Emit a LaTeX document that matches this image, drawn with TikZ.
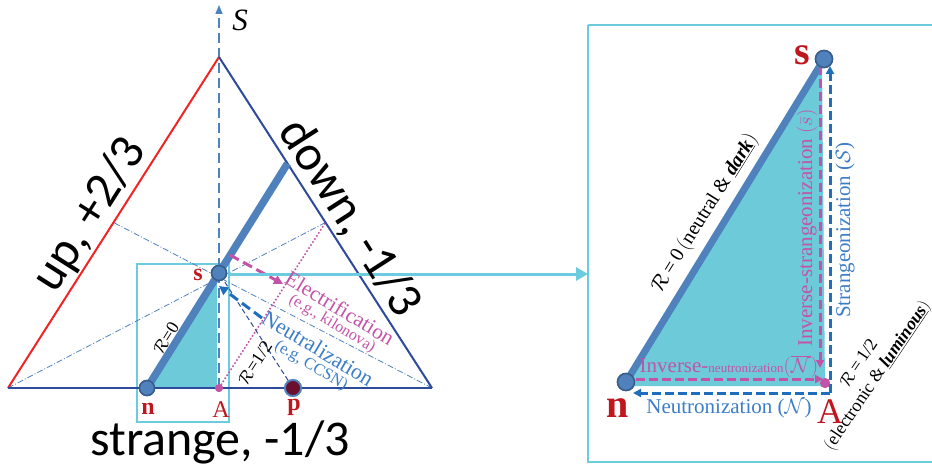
\documentclass[tikz,border=0pt]{standalone}
\usepackage{fontspec}
\setmainfont{Liberation Serif}
\newfontfamily\carl{Carlito}
\usetikzlibrary{arrows.meta,calc}
\definecolor{edgeblue}{HTML}{2E4A9B}
\definecolor{edgered}{HTML}{F02424}
\definecolor{steel}{HTML}{4F81BD}
\definecolor{steeldark}{HTML}{385D8A}
\definecolor{cyanfill}{HTML}{6CCAD9}
\definecolor{cyanline}{HTML}{6CCBDC}
\definecolor{pinkm}{HTML}{C453A8}
\definecolor{arrblue}{HTML}{1F6EBE}
\definecolor{txtblue}{HTML}{3B7DC6}
\definecolor{labred}{HTML}{C0161E}
\definecolor{darkmaroon}{HTML}{6A0F2E}
\newcommand{\fs}[1]{\fontsize{#1}{#1}\selectfont}
\begin{document}
\begin{tikzpicture}[x=1pt,y=-1pt,
  dotnode/.style={circle,fill=steel,draw=steeldark,line width=1.5pt,minimum size=15pt,inner sep=0pt},
  pdot/.style={circle,fill=darkmaroon,draw=steel,line width=1.8pt,minimum size=16pt,inner sep=0pt},
  adot/.style={circle,fill=pinkm,draw=none,minimum size=8pt,inner sep=0pt},
  labs/.style={text=labred,font=\bfseries\fs{24},inner sep=0pt,anchor=base},
  labb/.style={text=labred,font=\bfseries\fs{40},inner sep=0pt,anchor=base},
  bigtxt/.style={font=\carl\fs{50},inner sep=0pt},
  median/.style={steel,line width=0.8pt,dash pattern=on 6pt off 2pt on 1pt off 2pt},
  pinkarrow/.style={pinkm,line width=3pt,dash pattern=on 10pt off 5pt,-{Triangle[length=9pt,width=9pt]}},
  bluearrow/.style={arrblue,line width=3pt,dash pattern=on 10pt off 5pt,-{Triangle[length=9pt,width=9pt]}},
  thinarrow/.style={line width=3pt,dash pattern=on 9pt off 4pt,-{Triangle[length=8pt,width=8pt]}},
  boxline/.style={cyanline,line width=2.5pt}
]
\useasboundingbox (0,0) rectangle (932,468);
% ---------- left panel geometry ----------
\coordinate (L) at (8,388);
\coordinate (R) at (432,388);
\coordinate (T) at (219,57);
\coordinate (mL) at ($(L)!0.5!(T)$);
\coordinate (mR) at ($(T)!0.5!(R)$);
\coordinate (topend) at (287.5,163.5);
\coordinate (Stop) at (219,5);
\coordinate (Sbot) at (219,388);
\coordinate (fillc) at (217,388);
\coordinate (eS) at (230,255);
\coordinate (eE) at (283,284);
\coordinate (nS) at (262,318);
\coordinate (nE) at (219,286);
\coordinate (cS) at (229,274);
\coordinate (cE) at (588,274);
\node[dotnode] (n) at (147,388) {};
\node[dotnode] (s) at (219,273) {};
\node[adot] (A) at (219,388) {};
\node[pdot] (p) at (293,388) {};
% small box
\draw[boxline] (137,264) rectangle (229,422);
% cyan triangle
\fill[cyanfill] (n.center) -- (s.center) -- (fillc) -- cycle;
\draw[white,line width=4pt] (s.south) -- (A.center);
% S axis
\draw[steel,line width=1.6pt,dash pattern=on 10pt off 5pt,-{Triangle[length=9pt,width=7pt]}] (Sbot) -- (Stop);
% medians
\draw[median] (L) -- (mR);
\draw[median] (R) -- (mL);
% R=1/2 dotted
\draw[pinkm,line width=1.6pt,dotted] (A.center) -- (mR);
% p--s thin dashed
\draw[edgeblue,line width=1pt,dash pattern=on 5pt off 3pt] (p) -- (s.center);
% triangle edges
\draw[edgered,line width=2pt] (L) -- (T);
\draw[edgeblue,line width=2pt] (T) -- (R);
\draw[edgeblue,line width=2pt] (L) -- (R);
% thick R=0 line
\draw[steel,line width=7.5pt] (n.center) -- (topend);
% arrows
\draw[pinkarrow] (eS) -- (eE);
\draw[bluearrow] (nS) -- (nE);
\draw[cyanline,line width=3pt,-{Triangle[length=12pt,width=13pt]}] (cS) -- (cE);
% redraw nodes on top
\node[dotnode] at (n) {};
\node[dotnode] at (s) {};
\node[adot] at (A) {};
\node[pdot] at (p) {};
% left labels
\node[labs] (ln) at (148,414) {n};
\node[labs] (ls) at (198,280) {s};
\node[labs,font=\fs{24}] (lA) at (221,417) {A};
\node[labs] (lp) at (294,410) {p};
\node[font=\itshape\fs{31},inner sep=0pt] (lS) at (240,20) {S};
\node[bigtxt,rotate=57.5] (up) at (90,215) {up, +2/3};
\node[bigtxt,rotate=-57.3] (down) at (350,218) {down, -1/3};
\node[bigtxt,anchor=base] (strange) at (220,455) {strange, -1/3};
\node[font=\fs{18},rotate=58,inner sep=0pt] (r0) at (166,338) {$\mathcal{R}$=0};
\node[font=\fs{18},rotate=57,inner sep=0pt] (r12) at (255,363) {$\mathcal{R}$=1/2};
\node[text=pinkm,font=\fs{21.5},rotate=-31,inner sep=0pt] (el) at (340,308) {Electrification};
\node[text=pinkm,font=\fs{16},rotate=-31,inner sep=0pt] (kil) at (332,324) {(e.g., kilonova)};
\node[text=txtblue,font=\fs{22},rotate=-31,inner sep=0pt] (neu) at (318,348) {Neutralization};
\node[text=txtblue,font=\fs{16.5},rotate=-31,inner sep=0pt] (ccsn) at (311,366) {(e.g, CCSN)};
% ---------- right panel ----------
\draw[boxline] (588,25) -- (945,25);
\draw[boxline] (588,25) -- (588,462) -- (945,462);
\node[dotnode,minimum size=17pt] (n2) at (626,382) {};
\node[dotnode,minimum size=17pt] (s2) at (824,59) {};
\node[adot,minimum size=10pt] (A2) at (825,383) {};
\coordinate (f1) at (626,386);
\coordinate (f2) at (822,62);
\coordinate (f3) at (825,386);
\fill[cyanfill] (f1) -- (f2) -- (f3) -- cycle;
\draw[steel,line width=7pt] (n2.center) -- (s2.center);
\coordinate (pvS) at (820,66);
\coordinate (pvE) at (820,368);
\coordinate (phS) at (636,379);
\coordinate (phE) at (823,379);
\coordinate (bC) at (830,393);
\coordinate (bvE) at (830,66);
\coordinate (bhE) at (633,393);
\draw[thinarrow,pinkm] (pvS) -- (pvE);
\draw[thinarrow,pinkm] (phS) -- (phE);
\draw[thinarrow,arrblue] (bC) -- (bvE);
\draw[thinarrow,arrblue] (bC) -- (bhE);
\node[dotnode,minimum size=17pt] at (n2) {};
\node[dotnode,minimum size=17pt] at (s2) {};
\node[adot,minimum size=10pt] at (A2) {};
\node[labb] (ls2) at (802,65) {s};
\node[labb] (ln2) at (618,417) {n};
\node[labb,font=\fs{36}] (lA2) at (830,423) {A};
\node[text=pinkm,font=\fs{21},rotate=90,inner sep=0pt] (invs) at (807,228) {Inverse-strangeonization $\big(\bar{s}\big)$};
\node[text=txtblue,font=\fs{21},rotate=90,inner sep=0pt] (strg) at (845,230) {Strangeonization ($\mathcal{S}$)};
\node[text=txtblue,font=\fs{21},inner sep=0pt,anchor=base] (neut) at (729,413) {Neutronization ($\mathcal{N}$)};
\node[text=pinkm,font=\fs{21},inner sep=0pt,anchor=base] (invn) at (729,372) {Inverse-{\fs{13}neutronization}$\big(\overline{\mathcal{N}}\big)$};
\node[font=\fs{20},rotate=58,inner sep=0pt] (r0b) at (705,213) {$\mathcal{R}$\,=\,0\,$\Big($neutral \& \underline{\textbf{\textit{dark}}}$\Big)$};
\node[font=\fs{18},rotate=56,inner sep=0pt,align=center] (r12b) at (869,370) {$\mathcal{R}$\,=\,1/2\\[4pt]$\big($electronic \& \underline{\textbf{\textit{luminous}}}$\big)$};
\end{tikzpicture}
\end{document}
